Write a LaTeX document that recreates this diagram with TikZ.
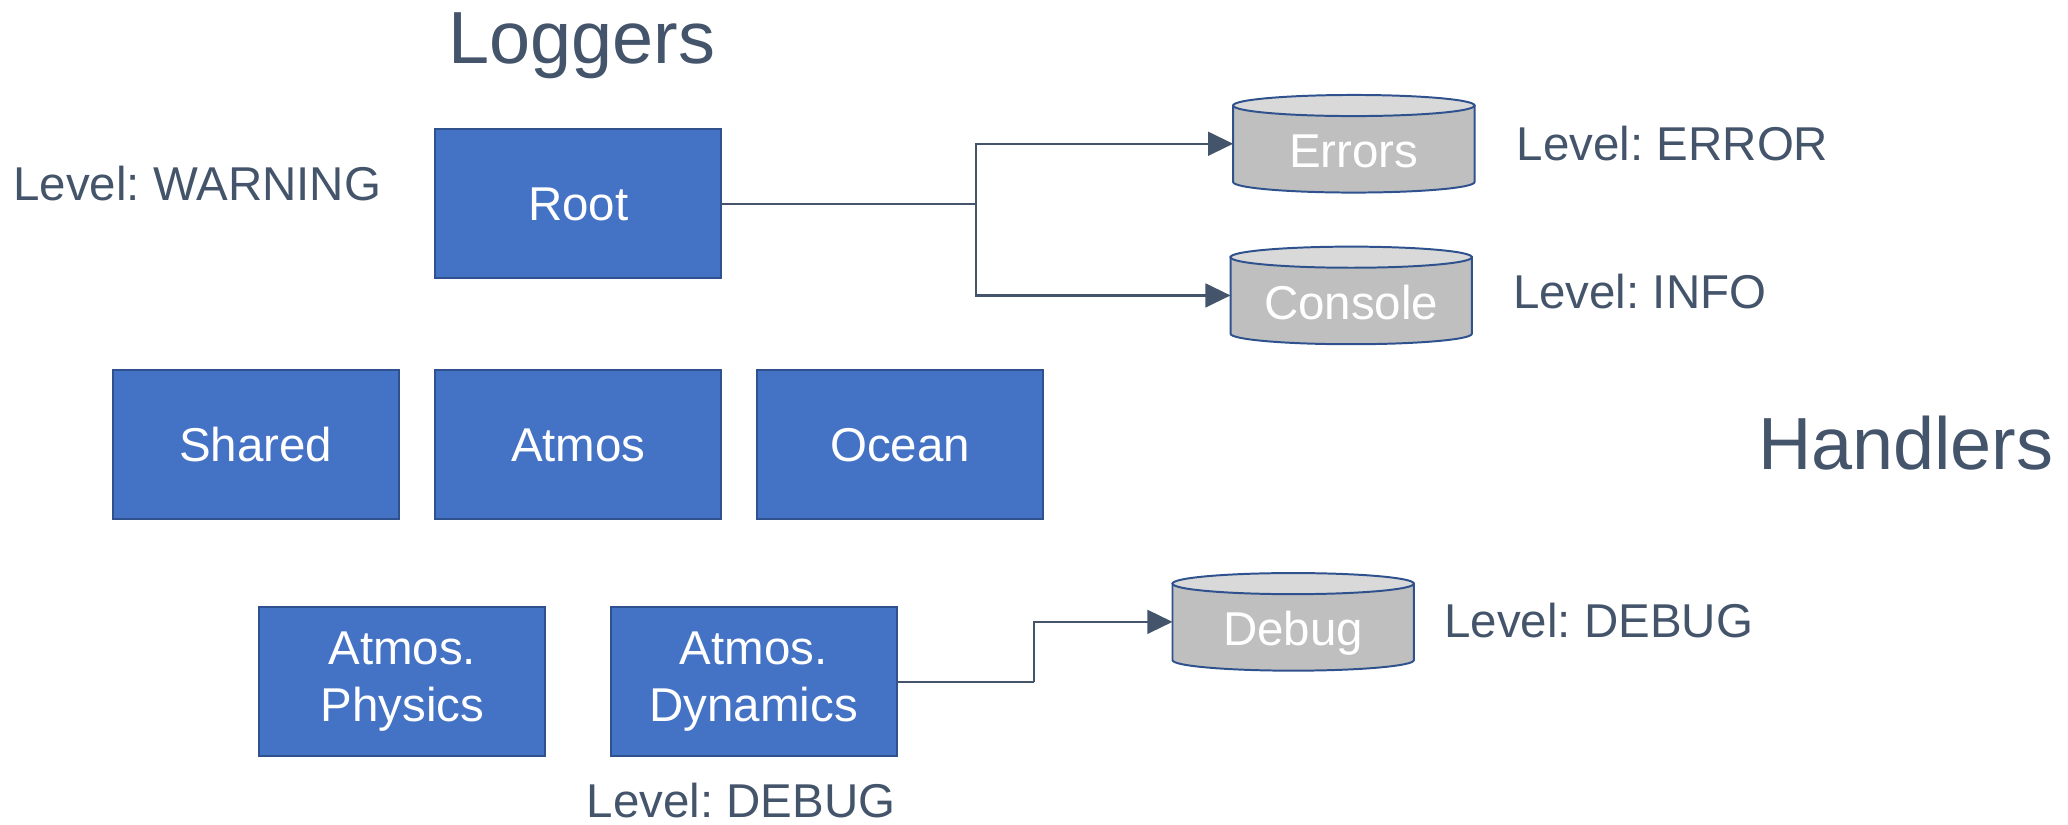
\documentclass[tikz,border=0pt]{standalone}
\usepackage{fontspec}
\setmainfont{Liberation Sans}
\frenchspacing
\usetikzlibrary{arrows.meta,calc,backgrounds}
\definecolor{txt}{HTML}{44546A}
\definecolor{boxfill}{HTML}{4472C4}
\definecolor{boxline}{HTML}{2F528F}
\definecolor{cylbody}{HTML}{BFBFBF}
\definecolor{cyltop}{HTML}{D9D9D9}
\tikzset{
 logger/.style={draw=boxline, line width=1.5pt, fill=boxfill, text=white, minimum width=217pt, minimum height=113pt, inner sep=0pt, outer sep=0pt, font=\fontsize{36}{43}\selectfont, align=center},
 oneline/.style={text height=26pt, text depth=0pt},
 handler/.style={minimum width=183pt, minimum height=74pt, inner sep=0pt, outer sep=0pt, text=white, font=\fontsize{36}{43}\selectfont, text height=26pt, text depth=0pt},
 lvl/.style={text=txt, font=\fontsize{36}{43}\selectfont, inner sep=0pt, text height=26pt, text depth=0pt},
 title/.style={text=txt, font=\fontsize{56}{64}\selectfont, inner sep=0pt, text height=40pt, text depth=0pt},
 conn/.style={draw=txt, line width=1.8pt},
 arr/.style={conn, -{Triangle[length=19pt,width=18pt]}},
 cylline/.style={draw=boxline, line width=1.5pt},
}
\newcommand\drawcyl[1]{%
 \path[cylline, fill=cylbody] ($(#1.north west)+(0,-8)$) -- ($(#1.south west)+(0,8)$) arc[start angle=180,end angle=360,x radius=91.5,y radius=8] -- ($(#1.north east)+(0,-8)$) -- cycle;
 \path[cylline, fill=cyltop] ($(#1.north)+(0,-8)$) ellipse[x radius=91.5,y radius=8];
}
\newcommand\twolines[2]{\raisebox{-3pt}{\begin{tabular}{@{}c@{}}#1\\#2\end{tabular}}}
\begin{document}
\begin{tikzpicture}[x=1pt,y=1pt]
\useasboundingbox (0,0) rectangle (1568,-625);
% titles
\node[title] (tlog) at (441,-28) {Loggers};
\node[title] (thand) at (1445,-336) {Handlers};
% loggers
\node[logger, oneline] (root) at (438.5,-154.5) {Root};
\node[logger, oneline] (shared) at (194,-337) {Shared};
\node[logger, oneline] (atmos) at (438.5,-337) {Atmos};
\node[logger, oneline] (ocean) at (682.5,-337) {Ocean};
\node[logger] (phys) at (305,-517) {\twolines{Atmos.}{Physics}};
\node[logger] (dyn) at (571.5,-517) {\twolines{Atmos.}{Dynamics}};
% handlers
\node[handler] (errors) at (1026.5,-109) {\raisebox{-5pt}{Errors}};
\node[handler] (console) at (1024.5,-224) {\raisebox{-5pt}{Console}};
\node[handler] (debug) at (980.5,-471.5) {\raisebox{-5pt}{Debug}};
\begin{scope}[on background layer]
 \drawcyl{errors}
 \drawcyl{console}
 \drawcyl{debug}
\end{scope}
% levels
\node[lvl, anchor=west] (lwarn) at (10,-139) {Level: WARNING};
\node[lvl, anchor=west] (lerr) at (1150,-109) {Level: ERROR};
\node[lvl, anchor=west] (linfo) at (1147,-221) {Level: INFO};
\node[lvl, anchor=west] (ldebugh) at (1095,-470) {Level: DEBUG};
\node[lvl] (ldebugl) at (562,-607) {Level: DEBUG};
% connectors
\coordinate (rs) at (740,-154.5);
\draw[conn] (root.east) -- (rs);
\draw[arr] (rs) |- (errors.west);
\draw[arr] (rs) |- (console.west);
\coordinate (ds) at (784,-517);
\draw[conn] (dyn.east) -- (ds);
\draw[arr] (ds) |- (debug.west);
\end{tikzpicture}
\end{document}
